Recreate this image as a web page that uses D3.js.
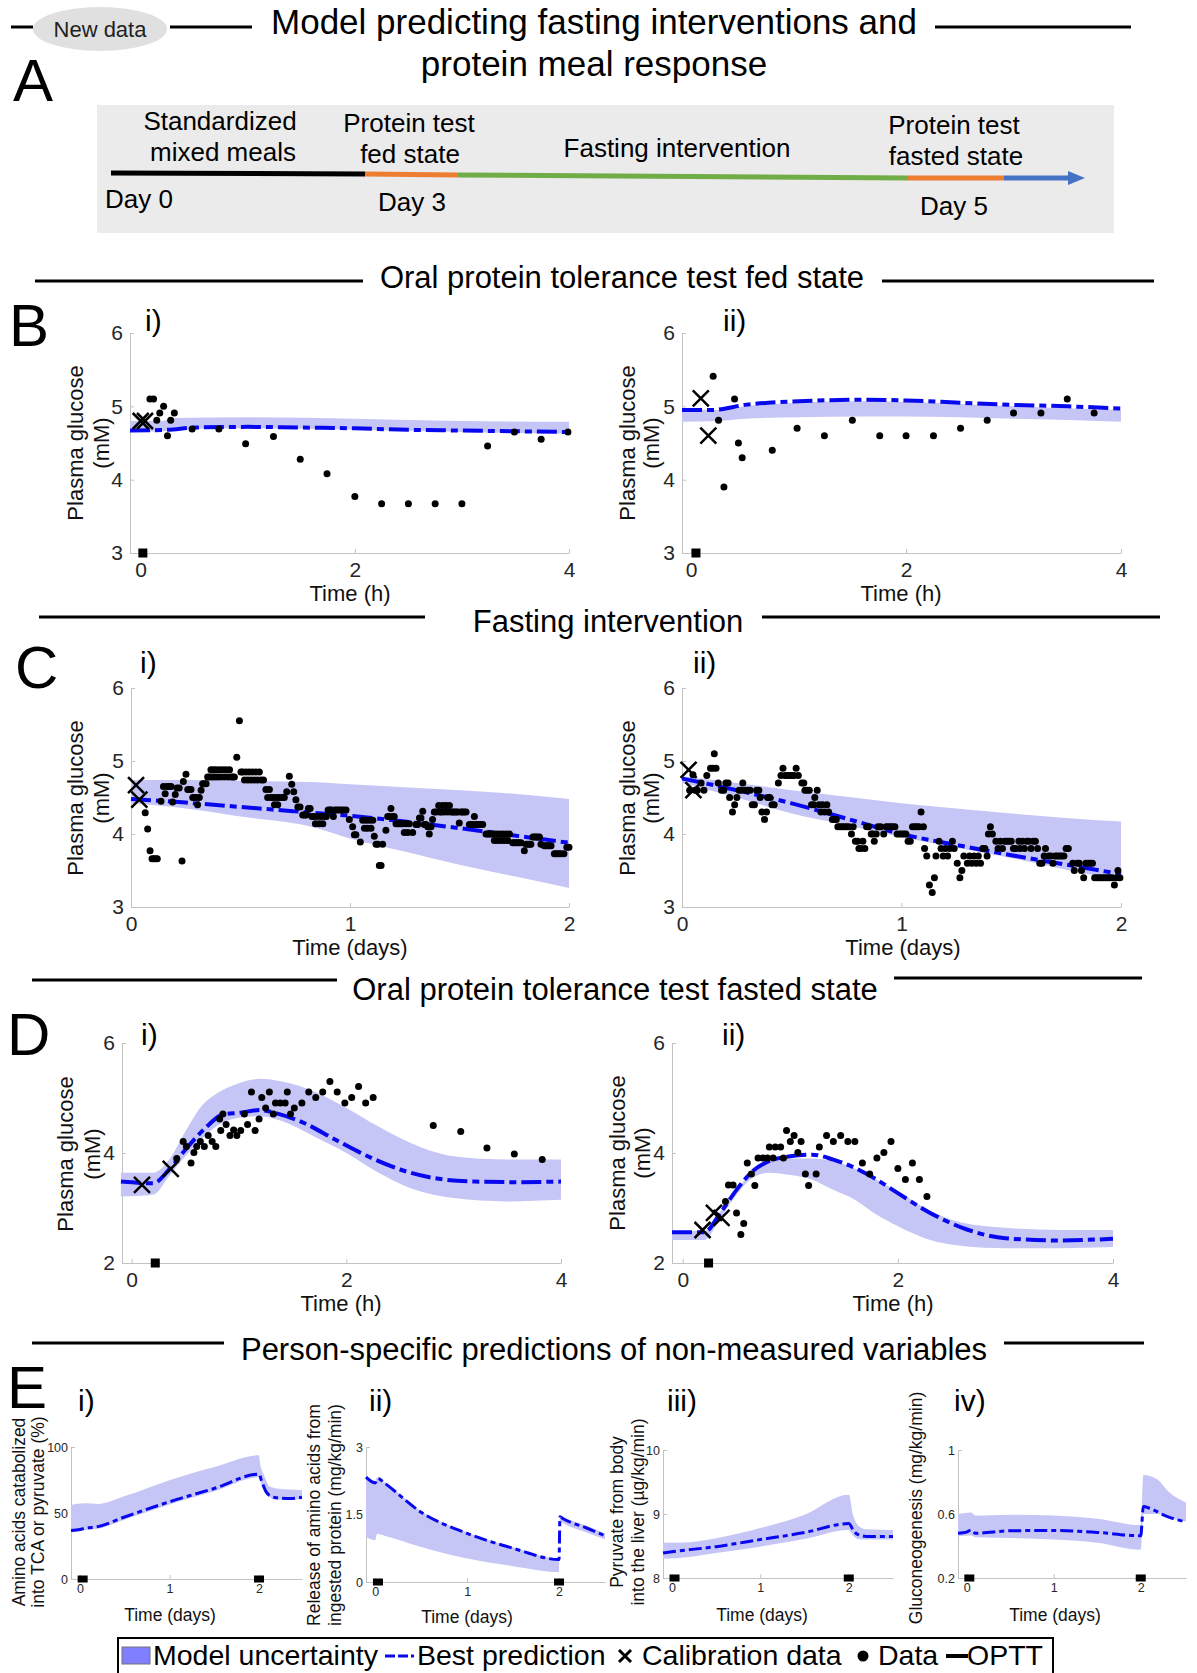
<!DOCTYPE html>
<html>
<head>
<meta charset="utf-8">
<script src="https://cdn.jsdelivr.net/npm/d3@7"></script>
<style>
	body { margin: 0; background: #fff; }
	svg { display: block; }
</style>
</head>
<body>
<svg id="fig" width="1197" height="1673"></svg>
<script>
// ticks
const hourTicks = [0, 2, 4]
const dayTicks = [0, 1, 2]
const glucoseTicksFed = [3, 4, 5, 6]
const glucoseTicksFasted = [2, 4, 6]

// B) protein test, fed state  [time h, glucose mM]
const fedCalib1 = [[0, 4.8], [0.04, 4.8]]
const fedData1 = [[0.086, 5.1], [0.12, 5.1], [0.15, 4.81], [0.178, 4.91], [0.214, 5.0], [0.25, 4.6], [0.28, 4.81], [0.314, 4.91], [0.48, 4.69], [0.73, 4.69], [0.98, 4.49], [1.24, 4.59], [1.49, 4.28], [1.74, 4.08], [2.0, 3.77], [2.25, 3.67], [2.5, 3.67], [2.75, 3.67], [3.0, 3.67], [3.24, 4.46], [3.49, 4.65], [3.74, 4.55], [3.99, 4.65]]
const fedBest1 = [[-0.1, 4.67], [0.25, 4.68], [0.5, 4.71], [1, 4.72], [1.5, 4.71], [2, 4.7], [2.5, 4.68], [3, 4.67], [3.5, 4.66], [4, 4.65]]
const fedBand1 = [[-0.1, 4.65, 4.8], [0.2, 4.66, 4.8], [0.3, 4.68, 4.84], [1, 4.7, 4.85], [2, 4.68, 4.83], [3, 4.65, 4.8], [4, 4.63, 4.79]]

const fedCalib2 = [[0.09, 5.11], [0.16, 4.6]]
const fedData2 = [[0.205, 5.41], [0.255, 4.81], [0.305, 3.9], [0.404, 5.1], [0.44, 4.5], [0.475, 4.3], [0.755, 4.4], [0.986, 4.7], [1.24, 4.6], [1.5, 4.81], [1.755, 4.6], [2.0, 4.6], [2.255, 4.6], [2.507, 4.7], [2.755, 4.81], [3.0, 4.91], [3.255, 4.91], [3.5, 5.1], [3.75, 4.91]]
const fedBest2 = [[-0.085, 4.95], [0.2, 4.95], [0.5, 5.02], [1, 5.07], [1.6, 5.09], [2, 5.08], [2.5, 5.05], [3, 5.02], [3.5, 5.0], [4, 4.97]]
const fedBand2 = [[-0.085, 4.79, 4.97], [0.25, 4.8, 4.95], [0.5, 4.83, 5.0], [1, 4.85, 5.05], [1.6, 4.86, 5.07], [2, 4.86, 5.06], [3, 4.83, 5.0], [4, 4.79, 4.95]]

// C) fasting intervention  [time days, glucose mM]
const fastCalib1 = [[0.023, 4.67], [0.038, 4.47]]
const fastData1 = [[0.065, 4.29], [0.076, 4.07], [0.087, 3.77], [0.096, 3.66], [0.104, 3.66], [0.112, 3.66], [0.12, 3.66], [0.137, 4.45], [0.148, 4.65], [0.156, 4.55], [0.164, 4.65], [0.172, 4.65], [0.183, 4.65], [0.19, 4.44], [0.202, 4.54], [0.21, 4.63], [0.22, 4.63], [0.233, 3.63], [0.239, 4.72], [0.251, 4.82], [0.259, 4.61], [0.267, 4.61], [0.274, 4.61], [0.282, 4.5], [0.29, 4.5], [0.297, 4.5], [0.304, 4.4], [0.312, 4.5], [0.32, 4.6], [0.327, 4.69], [0.335, 4.69], [0.343, 4.69], [0.35, 4.78], [0.358, 4.78], [0.365, 4.88], [0.37, 4.78], [0.376, 4.88], [0.382, 4.78], [0.388, 4.88], [0.395, 4.78], [0.403, 4.88], [0.41, 4.78], [0.419, 4.88], [0.426, 4.78], [0.434, 4.88], [0.442, 4.78], [0.45, 4.88], [0.457, 4.78], [0.465, 4.78], [0.472, 4.78], [0.483, 5.05], [0.495, 5.55], [0.502, 4.85], [0.51, 4.85], [0.518, 4.74], [0.525, 4.85], [0.533, 4.74], [0.54, 4.85], [0.548, 4.74], [0.555, 4.85], [0.563, 4.74], [0.57, 4.85], [0.578, 4.74], [0.586, 4.85], [0.594, 4.74], [0.605, 4.74], [0.616, 4.61], [0.624, 4.5], [0.632, 4.61], [0.64, 4.5], [0.647, 4.5], [0.655, 4.4], [0.662, 4.5], [0.67, 4.4], [0.677, 4.5], [0.69, 4.5], [0.7, 4.5], [0.711, 4.58], [0.723, 4.79], [0.734, 4.68], [0.743, 4.58], [0.753, 4.47], [0.762, 4.37], [0.772, 4.37], [0.784, 4.26], [0.792, 4.26], [0.8, 4.26], [0.81, 4.35], [0.818, 4.35], [0.826, 4.24], [0.834, 4.24], [0.842, 4.14], [0.85, 4.24], [0.86, 4.14], [0.868, 4.24], [0.876, 4.14], [0.884, 4.24], [0.892, 4.24], [0.9, 4.33], [0.908, 4.33], [0.916, 4.33], [0.924, 4.24], [0.932, 4.33], [0.94, 4.33], [0.95, 4.33], [0.96, 4.33], [0.97, 4.33], [0.982, 4.33], [0.997, 4.2], [1.012, 4.1], [1.02, 3.99], [1.027, 3.99], [1.047, 3.89], [1.058, 4.19], [1.066, 4.08], [1.073, 4.19], [1.08, 4.08], [1.088, 4.19], [1.096, 4.08], [1.104, 4.19], [1.111, 3.97], [1.119, 3.86], [1.127, 3.86], [1.134, 3.57], [1.142, 3.57], [1.149, 3.86], [1.164, 4.05], [1.172, 4.24], [1.18, 4.24], [1.187, 4.35], [1.195, 4.24], [1.202, 4.24], [1.21, 4.14], [1.218, 4.14], [1.226, 4.14], [1.233, 4.14], [1.24, 4.14], [1.248, 4.02], [1.256, 4.14], [1.264, 4.02], [1.271, 4.14], [1.286, 4.02], [1.301, 4.13], [1.309, 4.13], [1.317, 4.22], [1.324, 4.22], [1.332, 4.31], [1.339, 4.13], [1.347, 4.13], [1.355, 4.1], [1.362, 4.0], [1.37, 4.1], [1.377, 4.2], [1.385, 4.3], [1.393, 4.3], [1.405, 4.39], [1.41, 4.3], [1.418, 4.3], [1.423, 4.39], [1.43, 4.3], [1.438, 4.39], [1.446, 4.3], [1.454, 4.39], [1.462, 4.3], [1.47, 4.3], [1.476, 4.3], [1.485, 4.3], [1.492, 4.3], [1.499, 4.15], [1.507, 4.3], [1.514, 4.3], [1.522, 4.3], [1.53, 4.3], [1.545, 4.13], [1.553, 4.13], [1.56, 4.13], [1.568, 4.24], [1.575, 4.13], [1.583, 4.13], [1.59, 4.13], [1.598, 4.13], [1.606, 4.13], [1.621, 4.0], [1.629, 4.0], [1.636, 4.0], [1.644, 4.0], [1.652, 4.0], [1.659, 3.91], [1.667, 4.0], [1.674, 3.91], [1.682, 4.0], [1.69, 3.91], [1.698, 4.0], [1.705, 3.91], [1.713, 4.0], [1.72, 3.91], [1.728, 4.0], [1.743, 3.88], [1.75, 3.88], [1.758, 3.88], [1.766, 3.88], [1.773, 3.88], [1.781, 3.88], [1.796, 3.77], [1.804, 3.86], [1.812, 3.86], [1.82, 3.86], [1.826, 3.86], [1.835, 3.96], [1.842, 3.96], [1.849, 3.96], [1.857, 3.96], [1.865, 3.96], [1.872, 3.86], [1.887, 3.84], [1.895, 3.84], [1.903, 3.84], [1.91, 3.84], [1.918, 3.84], [1.933, 3.73], [1.94, 3.73], [1.948, 3.73], [1.956, 3.73], [1.964, 3.73], [1.977, 3.73], [1.99, 3.82], [2.0, 3.82]]
const fastBest1 = [[0, 4.48], [0.25, 4.43], [0.5, 4.37], [0.75, 4.31], [1, 4.25], [1.25, 4.17], [1.5, 4.08], [1.75, 3.98], [2, 3.88]]
const fastBand1 = [[0, 4.42, 4.74], [0.25, 4.35, 4.74], [0.5, 4.24, 4.73], [0.85, 4.08, 4.71], [1, 3.94, 4.68], [1.25, 3.76, 4.64], [1.5, 3.58, 4.6], [1.75, 3.42, 4.55], [2, 3.26, 4.48]]

const fastCalib2 = [[0.03, 4.88], [0.052, 4.6]]
const fastData2 = [[0.035, 4.6], [0.05, 4.81], [0.06, 4.6], [0.07, 4.6], [0.087, 4.7], [0.1, 4.6], [0.113, 4.8], [0.13, 4.9], [0.14, 4.9], [0.147, 5.1], [0.155, 4.9], [0.165, 4.7], [0.18, 4.6], [0.19, 4.6], [0.2, 4.7], [0.21, 4.7], [0.217, 4.5], [0.23, 4.3], [0.24, 4.4], [0.25, 4.5], [0.26, 4.6], [0.27, 4.6], [0.277, 4.7], [0.29, 4.6], [0.3, 4.6], [0.31, 4.6], [0.32, 4.4], [0.33, 4.4], [0.34, 4.6], [0.35, 4.6], [0.356, 4.5], [0.364, 4.3], [0.376, 4.2], [0.385, 4.3], [0.39, 4.5], [0.4, 4.5], [0.41, 4.4], [0.42, 4.4], [0.439, 4.7], [0.451, 4.8], [0.46, 4.9], [0.47, 4.8], [0.48, 4.8], [0.49, 4.8], [0.5, 4.8], [0.51, 4.8], [0.52, 4.9], [0.53, 4.8], [0.546, 4.7], [0.555, 4.7], [0.56, 4.6], [0.57, 4.6], [0.58, 4.6], [0.59, 4.4], [0.6, 4.4], [0.605, 4.5], [0.616, 4.6], [0.624, 4.4], [0.633, 4.3], [0.64, 4.4], [0.65, 4.3], [0.66, 4.4], [0.668, 4.3], [0.685, 4.2], [0.695, 4.2], [0.703, 4.2], [0.71, 4.1], [0.72, 4.1], [0.73, 4.1], [0.74, 4.1], [0.75, 4.1], [0.76, 4.1], [0.772, 4.0], [0.78, 4.1], [0.79, 3.9], [0.8, 3.9], [0.806, 3.8], [0.815, 3.8], [0.824, 3.9], [0.833, 3.8], [0.841, 4.1], [0.85, 4.1], [0.862, 4.0], [0.87, 4.0], [0.876, 3.9], [0.885, 4.0], [0.893, 4.1], [0.905, 4.1], [0.919, 4.0], [0.93, 4.1], [0.94, 4.1], [0.95, 4.1], [0.96, 4.1], [0.97, 4.1], [0.98, 4.0], [0.99, 4.0], [1.0, 4.0], [1.01, 4.0], [1.02, 4.0], [1.03, 3.9], [1.04, 3.9], [1.05, 4.1], [1.06, 4.1], [1.07, 4.1], [1.08, 4.1], [1.089, 4.3], [1.1, 4.1], [1.105, 3.8], [1.115, 3.7], [1.127, 3.3], [1.14, 3.2], [1.15, 3.4], [1.157, 3.7], [1.171, 3.9], [1.18, 3.8], [1.19, 3.7], [1.2, 3.8], [1.21, 3.7], [1.22, 3.8], [1.232, 3.9], [1.24, 3.8], [1.254, 3.6], [1.266, 3.4], [1.275, 3.5], [1.284, 3.7], [1.3, 3.6], [1.31, 3.7], [1.32, 3.6], [1.33, 3.7], [1.34, 3.6], [1.35, 3.7], [1.36, 3.6], [1.37, 3.8], [1.38, 3.8], [1.39, 3.7], [1.396, 4.0], [1.405, 4.1], [1.414, 4.0], [1.43, 3.9], [1.44, 3.8], [1.45, 3.9], [1.46, 3.8], [1.47, 3.9], [1.48, 3.9], [1.49, 3.9], [1.5, 3.9], [1.51, 3.8], [1.52, 3.8], [1.535, 3.9], [1.54, 3.8], [1.55, 3.9], [1.56, 3.8], [1.57, 3.9], [1.58, 3.9], [1.59, 3.8], [1.6, 3.9], [1.61, 3.9], [1.62, 3.8], [1.63, 3.6], [1.64, 3.6], [1.65, 3.7], [1.656, 3.8], [1.67, 3.7], [1.68, 3.7], [1.69, 3.6], [1.7, 3.7], [1.71, 3.7], [1.72, 3.7], [1.73, 3.7], [1.74, 3.7], [1.75, 3.8], [1.76, 3.8], [1.78, 3.6], [1.787, 3.5], [1.8, 3.6], [1.81, 3.6], [1.82, 3.5], [1.83, 3.4], [1.84, 3.6], [1.85, 3.6], [1.86, 3.6], [1.87, 3.6], [1.88, 3.4], [1.89, 3.4], [1.9, 3.4], [1.91, 3.4], [1.92, 3.4], [1.93, 3.4], [1.94, 3.4], [1.95, 3.4], [1.96, 3.4], [1.97, 3.3], [1.98, 3.4], [1.986, 3.5], [1.995, 3.4]]
const fastBest2 = [[0, 4.76], [0.25, 4.6], [0.5, 4.42], [0.75, 4.21], [1, 4.0], [1.25, 3.85], [1.5, 3.71], [1.75, 3.58], [2, 3.45]]
const fastBand2 = [[0, 4.7, 4.79], [0.25, 4.5, 4.7], [0.5, 4.28, 4.6], [0.75, 4.12, 4.51], [1, 3.96, 4.42], [1.25, 3.81, 4.35], [1.5, 3.67, 4.28], [1.75, 3.51, 4.22], [2, 3.36, 4.17]]

// D) protein test, fasted state  [time h, glucose mM]
const fastedCalib1 = [[0.096, 3.42], [0.364, 3.71]]
const fastedData1 = [[0.42, 3.9], [0.48, 4.21], [0.51, 4.12], [0.553, 3.82], [0.58, 4.01], [0.606, 4.12], [0.64, 4.21], [0.677, 4.12], [0.713, 4.32], [0.75, 4.21], [0.784, 4.12], [0.82, 4.62], [0.83, 4.41], [0.85, 4.71], [0.88, 4.52], [0.916, 4.32], [0.95, 4.42], [0.98, 4.32], [1.016, 4.41], [1.05, 4.71], [1.08, 4.52], [1.116, 5.11], [1.15, 4.41], [1.187, 4.62], [1.212, 5.01], [1.248, 4.82], [1.283, 5.11], [1.32, 4.71], [1.34, 4.91], [1.385, 4.91], [1.43, 4.91], [1.45, 5.11], [1.48, 4.71], [1.515, 4.82], [1.586, 4.91], [1.65, 5.11], [1.715, 5.01], [1.78, 5.11], [1.847, 5.3], [1.915, 5.11], [1.986, 4.91], [2.05, 5.01], [2.114, 5.21], [2.18, 4.91], [2.25, 5.01], [2.81, 4.5], [3.066, 4.39], [3.31, 4.09], [3.565, 3.98], [3.825, 3.88]]
const fastedBest1 = [[-0.1, 3.48], [0.2, 3.45], [0.35, 3.7], [0.5, 4.06], [0.7, 4.48], [0.85, 4.7], [1.0, 4.73], [1.2, 4.78], [1.35, 4.72], [1.6, 4.55], [1.9, 4.24], [2.2, 3.94], [2.5, 3.7], [2.8, 3.55], [3.2, 3.48], [3.6, 3.47], [4, 3.48]]
const fastedBand1 = [[-0.1, 3.21, 3.64], [0.2, 3.24, 3.64], [0.35, 3.58, 3.88], [0.5, 3.94, 4.39], [0.65, 4.25, 4.85], [0.8, 4.5, 5.09], [1.0, 4.64, 5.27], [1.2, 4.67, 5.35], [1.4, 4.58, 5.3], [1.7, 4.3, 5.12], [2.0, 4.0, 4.82], [2.3, 3.64, 4.48], [2.6, 3.36, 4.18], [3.0, 3.18, 3.94], [3.5, 3.12, 3.88], [4, 3.15, 3.88]]

const fastedCalib2 = [[0.184, 2.6], [0.29, 2.91], [0.36, 2.82]]
const fastedData2 = [[0.397, 3.12], [0.425, 3.42], [0.468, 3.42], [0.5, 2.91], [0.54, 2.52], [0.567, 2.72], [0.6, 3.82], [0.638, 3.62], [0.67, 3.41], [0.7, 3.91], [0.745, 3.91], [0.787, 3.91], [0.805, 4.11], [0.84, 3.91], [0.86, 4.11], [0.91, 4.11], [0.936, 3.91], [0.965, 4.41], [1.0, 4.21], [1.035, 4.32], [1.07, 4.01], [1.1, 4.21], [1.14, 3.62], [1.17, 3.41], [1.24, 3.62], [1.27, 4.11], [1.337, 4.32], [1.4, 4.21], [1.468, 4.32], [1.535, 4.21], [1.6, 4.21], [1.67, 3.82], [1.738, 3.62], [1.805, 3.91], [1.87, 4.01], [1.936, 4.21], [2.0, 3.72], [2.07, 3.52], [2.135, 3.82], [2.2, 3.52], [2.27, 3.21]]
const fastedBest2 = [[-0.1, 2.56], [0.2, 2.56], [0.35, 2.91], [0.5, 3.33], [0.65, 3.67], [0.8, 3.85], [1.0, 3.94], [1.2, 3.97], [1.4, 3.88], [1.6, 3.73], [1.8, 3.52], [2.0, 3.27], [2.3, 2.91], [2.6, 2.64], [3.0, 2.45], [3.5, 2.41], [4, 2.44]]
const fastedBand2 = [[-0.1, 2.42, 2.58], [0.2, 2.42, 2.58], [0.35, 2.82, 2.93], [0.5, 3.24, 3.33], [0.65, 3.55, 3.65], [0.8, 3.64, 3.85], [1.0, 3.6, 3.9], [1.2, 3.52, 3.9], [1.4, 3.33, 3.85], [1.6, 3.15, 3.72], [1.8, 2.88, 3.52], [2.0, 2.67, 3.3], [2.3, 2.42, 2.95], [2.6, 2.31, 2.73], [3.0, 2.27, 2.64], [3.5, 2.27, 2.6], [4, 2.29, 2.6]]

// E) person-specific predictions  [time days, value]
const aaCatBest = [[-0.1, 36.7], [0, 37.5], [0.05, 38.4], [0.2, 39.7], [0.5, 47], [1, 58.5], [1.5, 68.6], [2, 79.4], [2.03, 74], [2.08, 66], [2.14, 62.5], [2.2, 61.5], [2.35, 61], [2.48, 62]]
const aaCatBand = [[-0.1, 35, 56], [0.05, 37, 57.3], [0.2, 38, 56.8], [0.5, 45, 62.8], [1, 56.5, 74.9], [1.5, 66.5, 84.9], [2, 77, 93.7], [2.01, 75, 88], [2.06, 67, 78], [2.12, 62, 70], [2.2, 60, 68.5], [2.48, 60.5, 67.3]]
const aaRelBest = [[-0.1, 2.33], [0, 2.2], [0.03, 2.3], [0.1, 2.2], [0.5, 1.55], [1, 1.08], [1.5, 0.75], [2, 0.5], [2.01, 1.45], [2.05, 1.4], [2.3, 1.2], [2.5, 1.03]]
const aaRelBand = [[-0.1, 1.0, 2.35], [0, 0.93, 2.25], [0.02, 1.07, 2.32], [0.1, 1.03, 2.22], [0.5, 0.78, 1.57], [1, 0.52, 1.1], [1.5, 0.35, 0.77], [2, 0.22, 0.52], [2.01, 1.35, 1.48], [2.05, 1.3, 1.44], [2.3, 1.1, 1.25], [2.5, 0.95, 1.08]]
const pyrBest = [[-0.1, 8.39], [0, 8.41], [0.5, 8.49], [1, 8.6], [1.5, 8.71], [2, 8.85], [2.05, 8.75], [2.1, 8.68], [2.2, 8.65], [2.5, 8.65]]
const pyrBand = [[-0.1, 8.3, 8.55], [0.2, 8.33, 8.56], [0.5, 8.39, 8.62], [1, 8.49, 8.78], [1.5, 8.61, 8.99], [2, 8.75, 9.3], [2.05, 8.66, 8.98], [2.1, 8.61, 8.83], [2.2, 8.6, 8.76], [2.5, 8.6, 8.75]]
const gngBest = [[-0.1, 0.48], [0, 0.487], [0.05, 0.5], [0.1, 0.48], [0.5, 0.495], [1, 0.497], [1.5, 0.485], [2, 0.464], [2.03, 0.647], [2.1, 0.636], [2.3, 0.585], [2.52, 0.55]]
const gngBand = [[-0.1, 0.46, 0.6], [0.05, 0.465, 0.61], [0.1, 0.455, 0.59], [0.5, 0.45, 0.595], [1, 0.44, 0.59], [1.5, 0.42, 0.57], [2, 0.376, 0.53], [2.03, 0.6, 0.844], [2.2, 0.6, 0.813], [2.3, 0.58, 0.75], [2.52, 0.553, 0.67]]

// OPTT meal times
const opttFed1 = [0.02]
const opttFed2 = [0.045]
const opttFasted1 = [0.22]
const opttFasted2 = [0.24]
const opttDays = [0.03, 2.0]

const FONT = '"Liberation Sans", Arial, Helvetica, sans-serif'
const BAND_COLOR = '#c6c6f6'
const BEST_COLOR = '#0808ee'
const AXIS_COLOR = '#c2c2c2'
const TICK_COLOR = '#262626'

const svg = d3.select('#fig')

class TimePanel {
	constructor(svg, opts) {
		this.svg = svg
		this.o = opts
		this.init()
	}

	init() {
		this.g = this.svg.append('g')
		this.x = d3.scaleLinear().domain(this.o.xDomain).range(this.o.xRange)
		this.y = d3.scaleLinear().domain(this.o.yDomain).range(this.o.yRange)
		this.drawAxes()
		this.drawBand()
		this.drawBest()
		this.drawData()
		this.drawCalibration()
		this.drawOptt()
		this.drawLabels()
	}

	styleAxis(sel) {
		sel.attr('font-family', FONT).attr('font-size', this.o.tickFont)
		sel.select('.domain').attr('stroke', AXIS_COLOR)
		sel.selectAll('.tick line').attr('stroke', AXIS_COLOR)
		sel
			.selectAll('.tick text')
			.attr('fill', TICK_COLOR)
			.attr('font-size', this.o.tickFont)
	}

	drawAxes() {
		const o = this.o
		const xAxis = d3
			.axisBottom(this.x)
			.tickValues(o.xTicks)
			.tickFormat(d => d)
			.tickSizeInner(-4)
			.tickSizeOuter(0)
			.tickPadding(o.xPad)
		const yAxis = d3
			.axisLeft(this.y)
			.tickValues(o.yTicks)
			.tickFormat(d => d)
			.tickSizeInner(-4)
			.tickSizeOuter(0)
			.tickPadding(o.yPad)

		this.g
			.append('g')
			.attr('transform', `translate(0,${o.yRange[0]})`)
			.call(xAxis)
			.call(sel => this.styleAxis(sel))
		this.g
			.append('g')
			.attr('transform', `translate(${o.xRange[0]},0)`)
			.call(yAxis)
			.call(sel => this.styleAxis(sel))
	}

	drawBand() {
		const area = d3
			.area()
			.x(d => this.x(d[0]))
			.y0(d => this.y(d[1]))
			.y1(d => this.y(d[2]))
			.curve(d3.curveMonotoneX)
		this.g
			.append('path')
			.datum(this.o.band)
			.attr('d', area)
			.attr('fill', BAND_COLOR)
	}

	drawBest() {
		const line = d3
			.line()
			.x(d => this.x(d[0]))
			.y(d => this.y(d[1]))
			.curve(d3.curveMonotoneX)
		this.g
			.append('path')
			.datum(this.o.best)
			.attr('d', line)
			.attr('fill', 'none')
			.attr('stroke', BEST_COLOR)
			.attr('stroke-width', this.o.lineWidth)
			.attr('stroke-dasharray', this.o.dash)
	}

	drawData() {
		this.g
			.append('g')
			.selectAll('circle')
			.data(this.o.data || [])
			.join('circle')
			.attr('cx', d => this.x(d[0]))
			.attr('cy', d => this.y(d[1]))
			.attr('r', 3.5)
			.attr('fill', '#000')
	}

	drawCalibration() {
		const s = 8
		this.g
			.append('g')
			.selectAll('path')
			.data(this.o.calib || [])
			.join('path')
			.attr('d', d => {
				const cx = this.x(d[0])
				const cy = this.y(d[1])
				return `M${cx - s},${cy - s}L${cx + s},${cy + s}M${cx - s},${cy + s}L${cx + s},${cy - s}`
			})
			.attr('stroke', '#000')
			.attr('stroke-width', 2.5)
	}

	drawOptt() {
		const o = this.o
		this.g
			.append('g')
			.selectAll('rect')
			.data(o.optt || [])
			.join('rect')
			.attr('x', d => this.x(d) - o.opttW / 2)
			.attr('y', o.yRange[0] - o.opttH / 2)
			.attr('width', o.opttW)
			.attr('height', o.opttH)
			.attr('fill', '#000')
	}

	drawLabels() {
		const o = this.o
		this.g
			.append('text')
			.attr('x', o.xLabelX)
			.attr('y', o.xLabelY)
			.attr('text-anchor', 'middle')
			.attr('font-family', FONT)
			.attr('font-size', o.labelFont)
			.attr('fill', '#111')
			.text(o.xLabel)

		o.yLabel.forEach((txt, i) => {
			this.g
				.append('text')
				.attr('transform', `translate(${o.yLabelX[i]},${o.yLabelY}) rotate(-90)`)
				.attr('text-anchor', 'middle')
				.attr('dy', '0.35em')
				.attr('font-family', FONT)
				.attr('font-size', o.labelFont)
				.attr('fill', '#111')
				.text(txt)
		})

		this.g
			.append('text')
			.attr('x', o.romanX)
			.attr('y', o.romanY)
			.attr('font-family', FONT)
			.attr('font-size', 30)
			.text(o.roman)
	}
}

const glucoseStyle = {
	tickFont: 21,
	labelFont: 22,
	lineWidth: 4,
	dash: '20 5 7 5',
	xPad: 9,
	yPad: 7,
	opttW: 9,
	opttH: 9,
	yLabel: ['Plasma glucose', '(mM)']
}
const predStyle = {
	tickFont: 12.5,
	labelFont: 17.5,
	lineWidth: 3,
	dash: '13 4 5 4',
	xPad: 5,
	yPad: 3,
	opttW: 10,
	opttH: 7,
	xTicks: dayTicks,
	xLabel: 'Time (days)',
	xLabelY: 1621,
	yLabelY: 1512,
	optt: opttDays
}

function drawText(x, y, txt, size, anchor = 'middle', fill = '#000') {
	return svg
		.append('text')
		.attr('x', x)
		.attr('y', y)
		.attr('text-anchor', anchor)
		.attr('font-family', FONT)
		.attr('font-size', size)
		.attr('fill', fill)
		.text(txt)
}

function drawRule(x1, x2, y) {
	svg
		.append('line')
		.attr('x1', x1)
		.attr('x2', x2)
		.attr('y1', y)
		.attr('y2', y)
		.attr('stroke', '#000')
		.attr('stroke-width', 3)
}

function drawHeader() {
	drawRule(11, 33, 27)
	drawRule(170, 252, 27)
	drawRule(935, 1131, 27)
	svg
		.append('ellipse')
		.attr('cx', 100)
		.attr('cy', 29)
		.attr('rx', 67)
		.attr('ry', 22)
		.attr('fill', '#e0e0e0')
	drawText(100, 37, 'New data', 22, 'middle', '#222')
	drawText(594, 34, 'Model predicting fasting interventions and', 35)
	drawText(594, 76, 'protein meal response', 35)
	drawText(13, 101, 'A', 60, 'start')

	svg
		.append('rect')
		.attr('x', 97)
		.attr('y', 105)
		.attr('width', 1017)
		.attr('height', 128)
		.attr('fill', '#ebebeb')

	const segs = [
		[111, 173, 365, 174, '#000000'],
		[365, 174, 458, 175, '#ed7d31'],
		[458, 175, 908, 178, '#70ad47'],
		[908, 178, 1004, 178, '#ed7d31'],
		[1004, 178, 1070, 178, '#4472c4']
	]
	segs.forEach(s => {
		svg
			.append('line')
			.attr('x1', s[0])
			.attr('y1', s[1])
			.attr('x2', s[2])
			.attr('y2', s[3])
			.attr('stroke', s[4])
			.attr('stroke-width', 5)
	})
	svg
		.append('path')
		.attr('d', 'M1068,171 L1085,178 L1068,185 Z')
		.attr('fill', '#4472c4')

	drawText(220, 130, 'Standardized', 26)
	drawText(223, 161, 'mixed meals', 26)
	drawText(409, 132, 'Protein test', 26)
	drawText(410, 163, 'fed state', 26)
	drawText(677, 157, 'Fasting intervention', 26)
	drawText(954, 134, 'Protein test', 26)
	drawText(956, 165, 'fasted state', 26)
	drawText(139, 208, 'Day 0', 26)
	drawText(412, 211, 'Day 3', 26)
	drawText(954, 215, 'Day 5', 26)
}

function drawSections() {
	drawRule(35, 363, 281)
	drawRule(882, 1154, 281)
	drawText(622, 288, 'Oral protein tolerance test fed state', 31)
	drawText(9, 346, 'B', 60, 'start')

	drawRule(39, 425, 617)
	drawRule(762, 1160, 617)
	drawText(608, 632, 'Fasting intervention', 31)
	drawText(15, 688, 'C', 60, 'start')

	drawRule(32, 337, 980)
	drawRule(894, 1142, 978)
	drawText(615, 1000, 'Oral protein tolerance test fasted state', 31)
	drawText(7, 1055, 'D', 60, 'start')

	drawRule(32, 224, 1343)
	drawRule(1004, 1144, 1343)
	drawText(614, 1360, 'Person-specific predictions of non-measured variables', 31)
	drawText(7, 1408, 'E', 60, 'start')
}

function drawLegend() {
	const y = 1656
	svg
		.append('rect')
		.attr('x', 118)
		.attr('y', 1638)
		.attr('width', 935)
		.attr('height', 42)
		.attr('fill', '#fff')
		.attr('stroke', '#000')
		.attr('stroke-width', 2)
	svg
		.append('rect')
		.attr('x', 122)
		.attr('y', 1647)
		.attr('width', 28)
		.attr('height', 17)
		.attr('fill', '#7f7fff')
		.attr('stroke', '#777')
	drawText(153, 1665, 'Model uncertainty', 28.5, 'start')
	svg
		.append('line')
		.attr('x1', 385)
		.attr('x2', 415)
		.attr('y1', y)
		.attr('y2', y)
		.attr('stroke', BEST_COLOR)
		.attr('stroke-width', 3)
		.attr('stroke-dasharray', '10 3 10 3 3 3')
	drawText(417, 1665, 'Best prediction', 28.5, 'start')
	svg
		.append('path')
		.attr('d', `M619,${y - 6}L631,${y + 6}M619,${y + 6}L631,${y - 6}`)
		.attr('stroke', '#000')
		.attr('stroke-width', 3)
	drawText(642, 1665, 'Calibration data', 28.5, 'start')
	svg
		.append('circle')
		.attr('cx', 863)
		.attr('cy', y)
		.attr('r', 5.5)
		.attr('fill', '#000')
	drawText(878, 1665, 'Data', 28.5, 'start')
	svg
		.append('line')
		.attr('x1', 946)
		.attr('x2', 968)
		.attr('y1', y)
		.attr('y2', y)
		.attr('stroke', '#000')
		.attr('stroke-width', 4)
	drawText(967, 1665, 'OPTT', 28.5, 'start')
}

drawHeader()
drawSections()

// B
new TimePanel(svg, {
	...glucoseStyle,
	xDomain: [-0.1, 4], xRange: [130, 569],
	yDomain: [3, 6], yRange: [553, 333],
	xTicks: hourTicks, yTicks: glucoseTicksFed,
	band: fedBand1, best: fedBest1, data: fedData1, calib: fedCalib1, optt: opttFed1,
	xLabel: 'Time (h)', xLabelX: 350, xLabelY: 601,
	yLabelX: [75, 101], yLabelY: 443,
	roman: 'i)', romanX: 145, romanY: 331
})
new TimePanel(svg, {
	...glucoseStyle,
	xDomain: [-0.085, 4], xRange: [682, 1121],
	yDomain: [3, 6], yRange: [553, 333],
	xTicks: hourTicks, yTicks: glucoseTicksFed,
	band: fedBand2, best: fedBest2, data: fedData2, calib: fedCalib2, optt: opttFed2,
	xLabel: 'Time (h)', xLabelX: 901, xLabelY: 601,
	yLabelX: [627, 651], yLabelY: 443,
	roman: 'ii)', romanX: 723, romanY: 331
})

// C
new TimePanel(svg, {
	...glucoseStyle,
	xDomain: [0, 2], xRange: [131, 569],
	yDomain: [3, 6], yRange: [907, 688],
	xTicks: dayTicks, yTicks: glucoseTicksFed,
	band: fastBand1, best: fastBest1, data: fastData1, calib: fastCalib1,
	xLabel: 'Time (days)', xLabelX: 350, xLabelY: 955,
	yLabelX: [75, 101], yLabelY: 798,
	roman: 'i)', romanX: 140, romanY: 673
})
new TimePanel(svg, {
	...glucoseStyle,
	xDomain: [0, 2], xRange: [682, 1121],
	yDomain: [3, 6], yRange: [907, 688],
	xTicks: dayTicks, yTicks: glucoseTicksFed,
	band: fastBand2, best: fastBest2, data: fastData2, calib: fastCalib2,
	xLabel: 'Time (days)', xLabelX: 903, xLabelY: 955,
	yLabelX: [627, 651], yLabelY: 798,
	roman: 'ii)', romanX: 693, romanY: 673
})

// D
new TimePanel(svg, {
	...glucoseStyle,
	xDomain: [-0.09, 4], xRange: [122, 561],
	yDomain: [2, 6], yRange: [1263, 1043],
	xTicks: hourTicks, yTicks: glucoseTicksFasted,
	band: fastedBand1, best: fastedBest1, data: fastedData1, calib: fastedCalib1, optt: opttFasted1,
	xLabel: 'Time (h)', xLabelX: 341, xLabelY: 1311,
	yLabelX: [65, 92], yLabelY: 1154,
	roman: 'i)', romanX: 141, romanY: 1045
})
new TimePanel(svg, {
	...glucoseStyle,
	xDomain: [-0.1, 4], xRange: [672, 1113],
	yDomain: [2, 6], yRange: [1263, 1043],
	xTicks: hourTicks, yTicks: glucoseTicksFasted,
	band: fastedBand2, best: fastedBest2, data: fastedData2, calib: fastedCalib2, optt: opttFasted2,
	xLabel: 'Time (h)', xLabelX: 893, xLabelY: 1311,
	yLabelX: [617, 642], yLabelY: 1153,
	roman: 'ii)', romanX: 722, romanY: 1045
})

// E
new TimePanel(svg, {
	...predStyle,
	xDomain: [-0.1, 2.48], xRange: [71, 302],
	yDomain: [0, 100], yRange: [1579, 1447],
	yTicks: [0, 50, 100],
	band: aaCatBand, best: aaCatBest,
	xLabelX: 170,
	yLabel: ['Amino acids catabolized', 'into TCA or pyruvate (%)'], yLabelX: [19, 38],
	roman: 'i)', romanX: 78, romanY: 1411
})
new TimePanel(svg, {
	...predStyle,
	xDomain: [-0.1, 2.5], xRange: [366, 605],
	yDomain: [0, 3], yRange: [1582, 1447],
	yTicks: [0, 1.5, 3],
	band: aaRelBand, best: aaRelBest,
	xLabelX: 467, xLabelY: 1623,
	yLabel: ['Release of amino acids from', 'ingested protein (mg/kg/min)'], yLabelX: [314, 335], yLabelY: 1515,
	roman: 'ii)', romanX: 369, romanY: 1411
})
new TimePanel(svg, {
	...predStyle,
	xDomain: [-0.1, 2.5], xRange: [663, 893],
	yDomain: [8, 10], yRange: [1578, 1450],
	yTicks: [8, 9, 10],
	band: pyrBand, best: pyrBest,
	xLabelX: 762,
	yLabel: ['Pyruvate from body', 'into the liver (µg/kg/min)'], yLabelX: [617, 638],
	roman: 'iii)', romanX: 667, romanY: 1411
})
new TimePanel(svg, {
	...predStyle,
	xDomain: [-0.1, 2.52], xRange: [958, 1186],
	yDomain: [0.2, 1], yRange: [1578, 1450],
	yTicks: [0.2, 0.6, 1],
	band: gngBand, best: gngBest,
	xLabelX: 1055,
	yLabel: ['Gluconeogenesis (mg/kg/min)'], yLabelX: [916], yLabelY: 1508,
	roman: 'iv)', romanX: 954, romanY: 1411
})

drawLegend()
</script>
</body>
</html>
